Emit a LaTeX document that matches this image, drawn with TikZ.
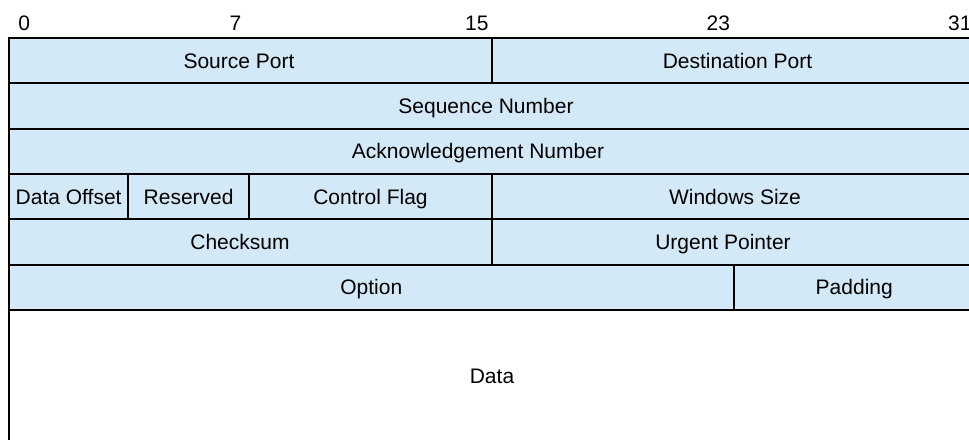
\documentclass[tikz,border=0pt]{standalone}
\usepackage{fontspec}
\setmainfont{Liberation Sans}
\definecolor{cellblue}{RGB}{211,233,248}
\begin{document}
\begin{tikzpicture}[x=1pt,y=-1pt,
  cell/.style={draw=black, line width=2pt, fill=cellblue, inner sep=0pt, outer sep=0pt, anchor=north west,
    font=\fontsize{21}{24}\selectfont, text height=15pt, text depth=0pt},
  datacell/.style={cell, fill=white},
  bitlabel/.style={font=\fontsize{21}{24}\selectfont, inner sep=0pt, text height=15pt, text depth=0pt}]
\useasboundingbox (0,0) rectangle (969,439);
\clip (0,0) rectangle (969,439);
\def\u{30.1875}
\def\h{45.33}
% header
\node[bitlabel] (b0)  at ({9+0.5*\u},23) {0};
\node[bitlabel] (b7)  at ({9+7.5*\u},23) {7};
\node[bitlabel] (b15) at ({9+15.5*\u},23) {15};
\node[bitlabel] (b23) at ({9+23.5*\u},23) {23};
\node[bitlabel] (b31) at ({9+31.5*\u},23) {31};
% row 1
\node[cell, minimum width={16*\u}, minimum height=\h] (sp) at (9,38) {Source Port\hspace*{23pt}};
\node[cell, minimum width={16*\u}, minimum height=\h] (dp) at ({9+16*\u},38) {\hspace*{8pt}Destination Port};
% row 2
\node[cell, minimum width={32*\u}, minimum height=\h] (seq) at (9,{38+\h}) {Sequence Number\hspace*{12pt}};
% row 3
\node[cell, minimum width={32*\u}, minimum height=\h] (ack) at (9,{38+2*\h}) {Acknowledgement Number\hspace*{28pt}};
% row 4
\node[cell, minimum width={3.95*\u}, minimum height=\h] (off) at (9,{38+3*\h}) {Data Offset};
\node[cell, minimum width={4*\u}, minimum height=\h] (res) at ({9+3.95*\u},{38+3*\h}) {Reserved};
\node[cell, minimum width={8.05*\u}, minimum height=\h] (flag) at ({9+7.95*\u},{38+3*\h}) {Control Flag};
\node[cell, minimum width={16*\u}, minimum height=\h] (win) at ({9+16*\u},{38+3*\h}) {\hspace*{3pt}Windows Size};
% row 5
\node[cell, minimum width={16*\u}, minimum height=\h] (chk) at (9,{38+4*\h}) {Checksum\hspace*{21pt}};
\node[cell, minimum width={16*\u}, minimum height=\h] (urg) at ({9+16*\u},{38+4*\h}) {Urgent Pointer\hspace*{21pt}};
% row 6
\node[cell, minimum width={24*\u}, minimum height=\h] (opt) at (9,{38+5*\h}) {Option};
\node[cell, minimum width={8*\u}, minimum height=\h] (pad) at ({9+24*\u},{38+5*\h}) {Padding};
% data
\node[datacell, minimum width={32*\u}, minimum height=133] (data) at (9,{38+6*\h}) {Data};
\end{tikzpicture}
\end{document}
